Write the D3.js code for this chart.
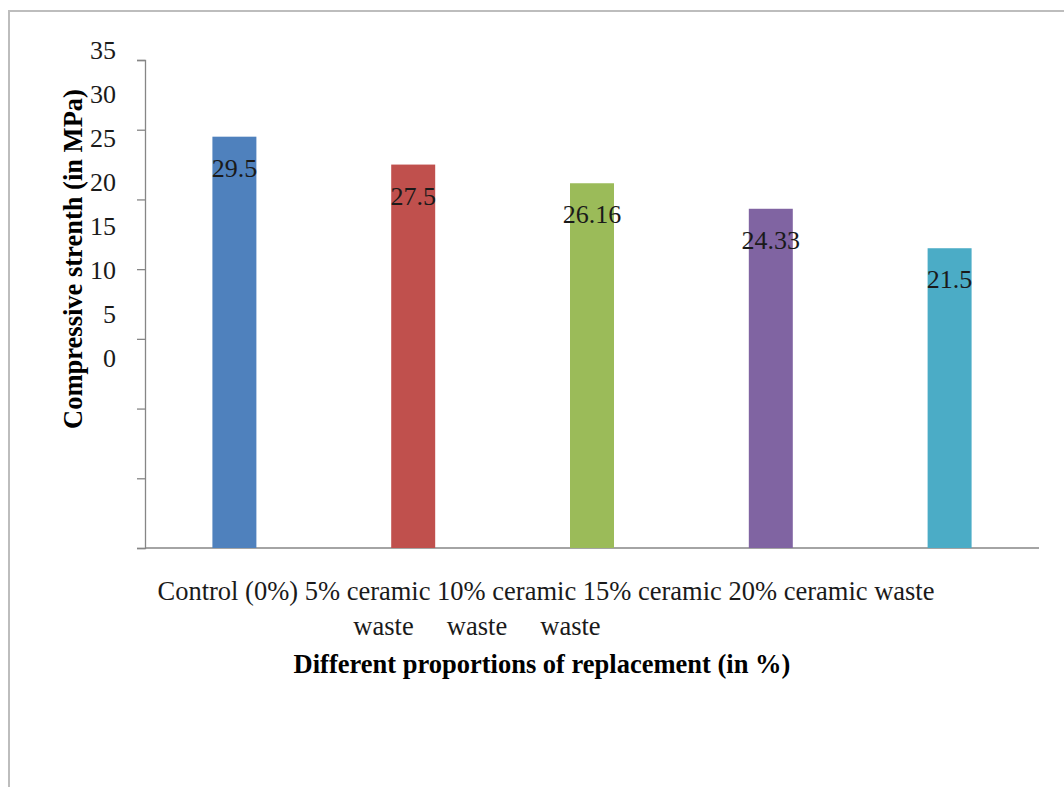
<!DOCTYPE html>
<html>
<head>
<meta charset="utf-8">
<script src="https://cdn.jsdelivr.net/npm/d3@7"></script>
<style>
  body { margin: 0; background: #fff; }
</style>
</head>
<body>
<div id="chart"></div>
<script>
// data
const categories = ["Control (0%)", "5% ceramic waste", "10% ceramic waste", "15% ceramic waste", "20% ceramic waste"];
const tickLine1 = ["Control (0%)", "5% ceramic", "10% ceramic", "15% ceramic", "20% ceramic waste"];
const tickLine2 = ["", "waste", "waste", "waste", ""];
const strength = [29.5, 27.5, 26.16, 24.33, 21.5];
const yTicks = [0, 5, 10, 15, 20, 25, 30, 35];
const colors = ["#4F81BD", "#C0504D", "#9BBB59", "#8064A2", "#4BACC6"];

const svgWidth = 1064;
const svgHeight = 787;
const margin = { top: 60, right: 25, bottom: 239, left: 145 };
const height = svgHeight - margin.bottom;
const serif = "'Liberation Serif', 'Times New Roman', Times, serif";

const svg = d3.select("#chart")
  .append("svg")
  .attr("width", svgWidth)
  .attr("height", svgHeight)
  .attr("font-family", serif)
  .style("font-family", serif);

// outer frame (only left and top edges are visible)
svg.append("path")
  .attr("d", `M9,${svgHeight} V11 H${svgWidth}`)
  .attr("fill", "none")
  .attr("stroke", "#bdbdbd")
  .attr("stroke-width", 2);

const x = d3.scaleBand()
  .domain(categories)
  .range([margin.left, svgWidth - margin.right])
  .paddingInner(0.754)
  .paddingOuter(0.377);

const y = d3.scaleLinear()
  .domain([0, 35])
  .range([height, margin.top]);

// the tick labels in the original sit off their tick marks
const yLabel = d3.scaleLinear()
  .domain([35, 0])
  .range([50, 358]);

// y axis: marks only
svg.append("g")
  .attr("class", "y-axis")
  .attr("transform", `translate(${margin.left},0)`)
  .call(d3.axisLeft(y).tickValues(yTicks).tickSize(8).tickFormat(""))
  .call(g => g.selectAll("line, path").attr("stroke", "#868686").attr("stroke-width", 1.3));

svg.append("g")
  .selectAll("text")
  .data(yTicks)
  .enter().append("text")
  .attr("x", 116)
  .attr("y", d => yLabel(d))
  .attr("dy", "0.35em")
  .style("text-anchor", "end")
  .style("font-size", "26px")
  .style("fill", "#1a1a1a")
  .text(d => d);

// x axis line
svg.append("line")
  .attr("x1", margin.left)
  .attr("x2", svgWidth - margin.right)
  .attr("y1", height)
  .attr("y2", height)
  .attr("stroke", "#868686")
  .attr("stroke-width", 1.3);

// bars
svg.selectAll(".bar")
  .data(strength)
  .enter().append("rect")
  .attr("class", "bar")
  .attr("x", (d, i) => x(categories[i]))
  .attr("y", d => y(d))
  .attr("width", x.bandwidth())
  .attr("height", d => height - y(d))
  .attr("fill", (d, i) => colors[i]);

// value labels
svg.selectAll(".val")
  .data(strength)
  .enter().append("text")
  .attr("class", "val")
  .attr("x", (d, i) => x(categories[i]) + x.bandwidth() / 2)
  .attr("y", d => y(d) + 31)
  .attr("dy", "0.35em")
  .style("text-anchor", "middle")
  .style("font-size", "26px")
  .style("fill", "#1a1a1a")
  .text(d => d);

// category labels, run together like the original
svg.append("text")
  .attr("x", 546)
  .attr("y", 600)
  .style("text-anchor", "middle")
  .style("font-size", "26.5px")
  .style("fill", "#1a1a1a")
  .text(tickLine1.join(" "));

svg.append("text")
  .attr("x", 477)
  .attr("y", 635)
  .style("text-anchor", "middle")
  .style("font-size", "26.5px")
  .style("fill", "#1a1a1a")
  .style("white-space", "pre")
  .text(tickLine2.filter(d => d).join("     "));

// axis titles
svg.append("text")
  .attr("x", 542)
  .attr("y", 673)
  .style("text-anchor", "middle")
  .style("font-size", "26.5px")
  .style("font-weight", "bold")
  .text("Different proportions of replacement (in %)");

svg.append("text")
  .attr("transform", "translate(82, 259) rotate(-90)")
  .style("text-anchor", "middle")
  .style("font-size", "26.5px")
  .style("font-weight", "bold")
  .text("Compressive strenth (in MPa)");
</script>
</body>
</html>
